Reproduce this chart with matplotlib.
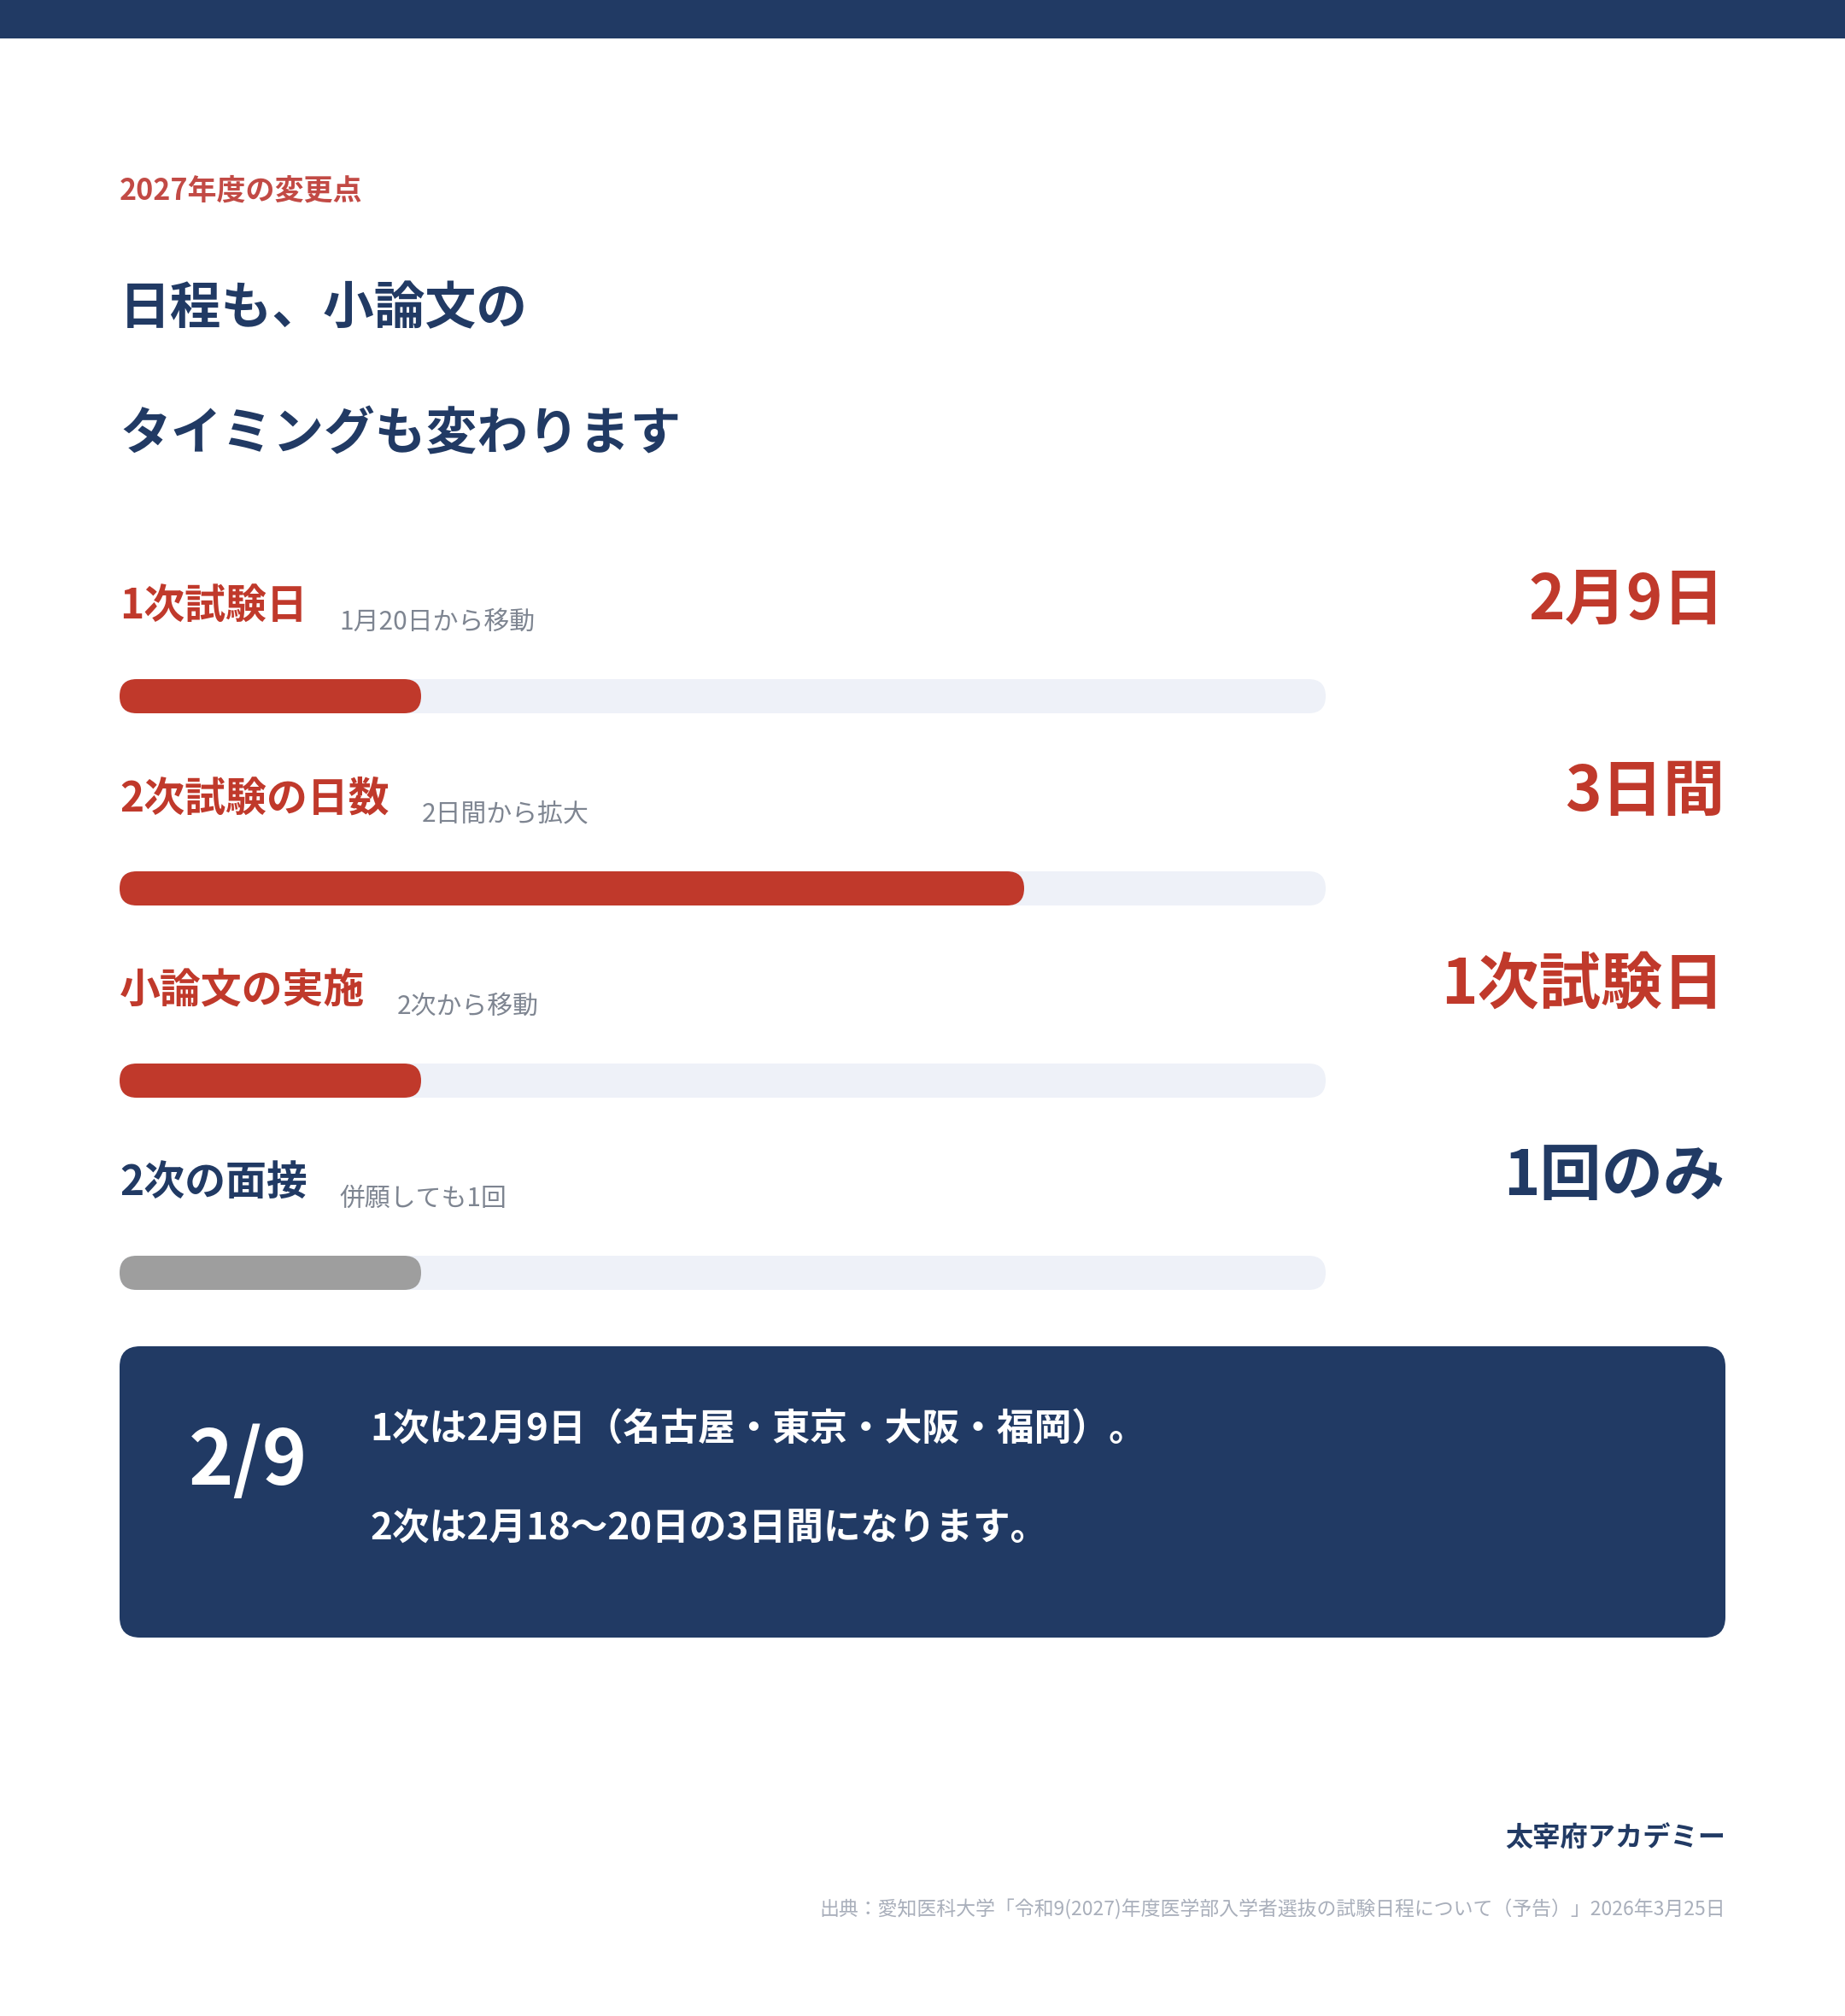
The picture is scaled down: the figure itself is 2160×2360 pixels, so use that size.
import matplotlib.pyplot as plt
from matplotlib.patches import FancyBboxPatch, Rectangle

# フォント設定
plt.rcParams['font.family'] = ['Noto Sans CJK JP', 'DejaVu Sans']

# データ
kicker = '2027年度の変更点'
title_lines = ['日程も、小論文の', 'タイミングも変わります']
labels = ['1次試験日', '2次試験の日数', '小論文の実施', '2次の面接']
notes = ['1月20日から移動', '2日間から拡大', '2次から移動', '併願しても1回']
values = ['2月9日', '3日間', '1次試験日', '1回のみ']
fractions = [0.25, 0.75, 0.25, 0.25]
changed = [True, True, True, False]
box_big = '2/9'
box_lines = ['1次は2月9日（名古屋・東京・大阪・福岡）。', '2次は2月18〜20日の3日間になります。']
brand = '太宰府アカデミー'
source = '出典：愛知医科大学「令和9(2027)年度医学部入学者選抜の試験日程について（予告）」2026年3月25日'

# 色
navy = '#213A64'
red = '#C0392B'
red_soft = '#C24A45'
grey_note = '#7E8591'
track = '#EEF1F8'
grey_fill = '#9E9E9E'
src_col = '#A9AFBB'

W, H = 2160, 2360
fig = plt.figure(figsize=(W / 100, H / 100), dpi=100)
ax = fig.add_axes([0, 0, 1, 1])
ax.set_xlim(0, W)
ax.set_ylim(H, 0)
ax.axis('off')

# 上の帯
ax.add_patch(Rectangle((0, 0), W, 45, color=navy, lw=0))

left = 140
right = 2017

ax.text(left, 223, kicker, color=red_soft, fontsize=24.5, fontweight='bold', va='center')
for i, line in enumerate(title_lines):
    ax.text(left, 362 + 147 * i, line, color=navy, fontsize=43, fontweight='bold', va='center')

renderer = fig.canvas.get_renderer()

bar_x0 = 140
bar_w = 1412
bar_h = 40
row_gap = 225
for i in range(len(labels)):
    col = red if changed[i] else navy
    y_lab = 710 + row_gap * i
    t = ax.text(left, y_lab, labels[i], color=col, fontsize=34.5, fontweight='bold', va='center')
    bb = t.get_window_extent(renderer)
    ax.text(bb.x1 + 38, y_lab + 18, notes[i], color=grey_note, fontsize=21.5, va='center')
    ax.text(right + 2, 703 + row_gap * i, values[i], color=col, fontsize=52, fontweight='bold',
            va='center', ha='right')
    yb = 815 + row_gap * i
    ax.add_patch(FancyBboxPatch((bar_x0, yb - bar_h / 2), bar_w, bar_h,
                                boxstyle=f'round,pad=0,rounding_size={bar_h / 2}',
                                fc=track, ec='none'))
    ax.add_patch(FancyBboxPatch((bar_x0, yb - bar_h / 2), bar_w * fractions[i], bar_h,
                                boxstyle=f'round,pad=0,rounding_size={bar_h / 2}',
                                fc=red if changed[i] else grey_fill, ec='none'))

# 下の囲み
ax.add_patch(FancyBboxPatch((140, 1576), 1880, 341,
                            boxstyle='round,pad=0,rounding_size=24', fc=navy, ec='none'))
ax.text(221, 1712, box_big, color='white', fontsize=64, fontweight='bold', va='center')
for i, line in enumerate(box_lines):
    ax.text(433, 1674 + 115 * i, line, color='white', fontsize=31.5, fontweight='bold', va='center')

ax.text(right + 3, 2152, brand, color=navy, fontsize=23.2, fontweight='bold', va='center', ha='right')
ax.text(right + 3, 2235, source, color=src_col, fontsize=16.5, va='center', ha='right')

plt.savefig('out.png', dpi=100, facecolor='white')
